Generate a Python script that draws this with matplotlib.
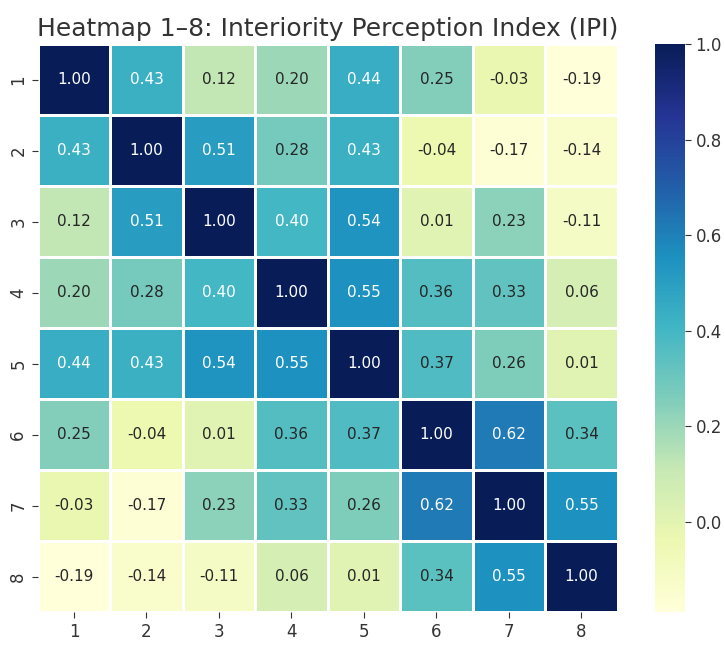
import numpy as np
import pandas as pd
import matplotlib
matplotlib.use("Agg")
import matplotlib.pyplot as plt
import seaborn as sns

labels = ["1", "2", "3", "4", "5", "6", "7", "8"]
row_1 = [1.00, 0.43, 0.12, 0.20, 0.44, 0.25, -0.03, -0.19]
row_2 = [0.43, 1.00, 0.51, 0.28, 0.43, -0.04, -0.17, -0.14]
row_3 = [0.12, 0.51, 1.00, 0.40, 0.54, 0.01, 0.23, -0.11]
row_4 = [0.20, 0.28, 0.40, 1.00, 0.55, 0.36, 0.33, 0.06]
row_5 = [0.44, 0.43, 0.54, 0.55, 1.00, 0.37, 0.26, 0.01]
row_6 = [0.25, -0.04, 0.01, 0.36, 0.37, 1.00, 0.62, 0.34]
row_7 = [-0.03, -0.17, 0.23, 0.33, 0.26, 0.62, 1.00, 0.55]
row_8 = [-0.19, -0.14, -0.11, 0.06, 0.01, 0.34, 0.55, 1.00]

corr = pd.DataFrame([row_1, row_2, row_3, row_4, row_5, row_6, row_7, row_8],
                    index=labels, columns=labels)

fig = plt.figure(figsize=(7.25, 6.5), dpi=100)
ax = fig.add_axes([0.052, 0.058, 0.8, 0.874])
cax = fig.add_axes([0.903, 0.058, 0.042, 0.874])

sns.heatmap(corr, ax=ax, cbar_ax=cax, cmap="YlGnBu", annot=True, fmt=".2f",
            linewidths=1, linecolor="white", annot_kws={"fontsize": 11})

ax.set_title("Heatmap 1\u20138: Interiority Perception Index (IPI)", fontsize=18, pad=6, color="#333333")
ax.tick_params(axis="both", labelsize=12, length=4, colors="#333333")
cax.tick_params(labelsize=12, length=4, colors="#333333")
cax.set_yticks([0.0, 0.2, 0.4, 0.6, 0.8, 1.0])

fig.savefig("out.png", dpi=100)
